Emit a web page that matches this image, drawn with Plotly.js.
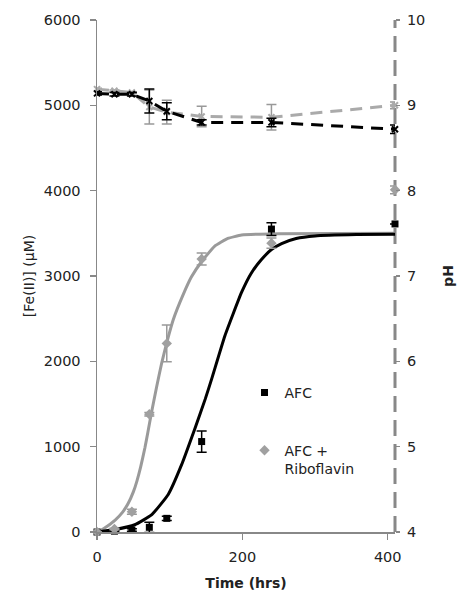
<!DOCTYPE html>
<html>
<head>
<meta charset="utf-8">
<script src="https://cdn.plot.ly/plotly-3.0.1.min.js"></script>
<style>html,body{margin:0;padding:0;background:#fff;}#chart{width:462px;height:593px;}</style>
</head>
<body>
<div id="chart"></div>
<script>
// Sampling times (hrs)
const sampleTimes = [0, 24, 48, 72, 96, 144, 240, 410];

// Fe(II) measurements (µM)
const feAFC = [0, 10, 23, 55, 160, 1060, 3550, 3610];
const feAFCErr = [0, 8, 15, 60, 25, 125, 75, 0];
const feRibo = [0, 35, 238, 1380, 2210, 3200, 3385, 4010];
const feRiboErr = [0, 10, 30, 20, 215, 70, 60, 45];

// Fitted curves
const fitAFCTime = [0, 25, 52, 75, 98, 116, 135, 149, 158, 176, 199, 212, 226, 240, 254, 274, 300, 357, 410];
const fitAFCVal  = [0, 30, 85, 200, 440, 780, 1220, 1560, 1800, 2300, 2810, 3030, 3190, 3310, 3380, 3440, 3470, 3485, 3490];
const fitRiboTime = [0, 10, 25, 35, 43, 50, 55, 60, 66, 70, 75, 82, 89, 96, 105, 119, 130, 144, 162, 180, 199, 250, 410];
const fitRiboVal  = [0, 45, 140, 230, 336, 470, 600, 760, 990, 1170, 1400, 1700, 1980, 2220, 2490, 2790, 2990, 3170, 3350, 3440, 3480, 3495, 3500];

// pH measurements
const phAFC = [9.14, 9.13, 9.13, 9.05, 8.93, 8.80, 8.80, 8.72];
const phAFCErr = [0.02, 0.02, 0.02, 0.14, 0.10, 0.03, 0.05, 0.05];
const phRibo = [9.19, 9.17, 9.15, 8.98, 8.92, 8.87, 8.86, 9.00];
const phRiboErr = [0.01, 0.01, 0.01, 0.20, 0.14, 0.12, 0.15, 0.04];

// Axis ticks
const xTicks = [0, 200, 400];
const yTicks = [0, 1000, 2000, 3000, 4000, 5000, 6000];
const y2Ticks = [4, 5, 6, 7, 8, 9, 10];

const FONT = 'DejaVu Sans, sans-serif';
const TXT = '#222';
const AX = '#888';
const FS = 14.5;

const traces = [
  {x: fitRiboTime, y: fitRiboVal, mode: 'lines', line: {color: '#9a9a9a', width: 3, shape: 'spline', smoothing: 0.4}, showlegend: false, cliponaxis: false, hoverinfo: 'skip'},
  {x: fitAFCTime, y: fitAFCVal, mode: 'lines', line: {color: '#000', width: 3, shape: 'spline', smoothing: 0.4}, showlegend: false, cliponaxis: false, hoverinfo: 'skip'},
  {x: sampleTimes, y: feAFC, name: 'AFC', mode: 'markers', marker: {symbol: 'square', size: 7, color: '#000'},
   error_y: {type: 'data', array: feAFCErr, color: '#000', thickness: 1.5, width: 5}, cliponaxis: false, legend: 'legend'},
  {x: sampleTimes, y: feRibo, name: 'AFC +<br>Riboflavin', mode: 'markers', marker: {symbol: 'diamond', size: 8, color: '#a0a0a0'},
   error_y: {type: 'data', array: feRiboErr, color: '#999', thickness: 1.5, width: 5}, cliponaxis: false, legend: 'legend2'},
  {x: sampleTimes, y: phRibo, yaxis: 'y2', mode: 'lines+markers', line: {color: '#aaa', width: 3, dash: '12px,8px'},
   marker: {symbol: 'x-thin', size: 6, color: '#aaa', line: {color: '#aaa', width: 2}},
   error_y: {type: 'data', array: phRiboErr, color: '#999', thickness: 1.5, width: 5}, showlegend: false, cliponaxis: false},
  {x: sampleTimes, y: phAFC, yaxis: 'y2', mode: 'lines+markers', line: {color: '#000', width: 3, dash: '12px,8px'},
   marker: {symbol: 'x-thin', size: 6, color: '#000', line: {color: '#000', width: 2}},
   error_y: {type: 'data', array: phAFCErr, color: '#000', thickness: 1.5, width: 5}, showlegend: false, cliponaxis: false}
];

const layout = {
  width: 462, height: 593,
  margin: {l: 97, r: 67, t: 20, b: 61, pad: 0},
  paper_bgcolor: '#fff', plot_bgcolor: '#fff',
  font: {family: FONT, size: FS, color: TXT},
  xaxis: {
    range: [0, 410], tickvals: xTicks, ticktext: xTicks.map(String),
    showline: true, linecolor: AX, linewidth: 1.5, ticks: 'outside', ticklen: 6, tickcolor: AX, tickwidth: 1.5,
    showgrid: false, zeroline: false, ticklabelstandoff: 5,
    tickfont: {family: FONT, size: FS, color: TXT},
    title: {text: 'Time (hrs)', font: {family: FONT, size: 14, color: TXT, weight: 'bold'}, standoff: 14}
  },
  yaxis: {
    range: [0, 6000], tickvals: yTicks, ticktext: yTicks.map(String),
    showline: true, linecolor: AX, linewidth: 1.5, ticks: 'outside', ticklen: 6, tickcolor: AX, tickwidth: 1.5,
    showgrid: false, zeroline: false, ticklabelstandoff: 6,
    tickfont: {family: FONT, size: FS, color: TXT},
    title: {text: '[Fe(II)] (μM)', font: {family: FONT, size: 14, color: TXT}, standoff: 6}
  },
  yaxis2: {
    range: [4, 10], tickvals: y2Ticks, ticktext: y2Ticks.map(String), overlaying: 'y', side: 'right',
    showline: false, ticks: 'outside', ticklen: 4, tickcolor: AX, tickwidth: 1.5,
    showgrid: false, zeroline: false, ticklabelstandoff: 4,
    tickfont: {family: FONT, size: FS, color: TXT},
    title: {text: 'pH', font: {family: FONT, size: 14, color: TXT, weight: 'bold'}, standoff: 18}
  },
  shapes: [
    {type: 'line', xref: 'paper', yref: 'paper', x0: 1, x1: 1, y0: 0, y1: 1,
     line: {color: AX, width: 3, dash: '16px,8px'}, layer: 'below'}
  ],
  legend: {x: 0.495, y: 0.303, xanchor: 'left', yanchor: 'top', bgcolor: 'rgba(0,0,0,0)',
    font: {family: FONT, size: 14, color: TXT}, itemwidth: 30},
  legend2: {x: 0.495, y: 0.19, xanchor: 'left', yanchor: 'top', bgcolor: 'rgba(0,0,0,0)',
    font: {family: FONT, size: 14, color: TXT}, itemwidth: 30, valign: 'top'},
  showlegend: true
};

Plotly.newPlot('chart', traces, layout, {staticPlot: true, displayModeBar: false});
</script>
</body>
</html>
